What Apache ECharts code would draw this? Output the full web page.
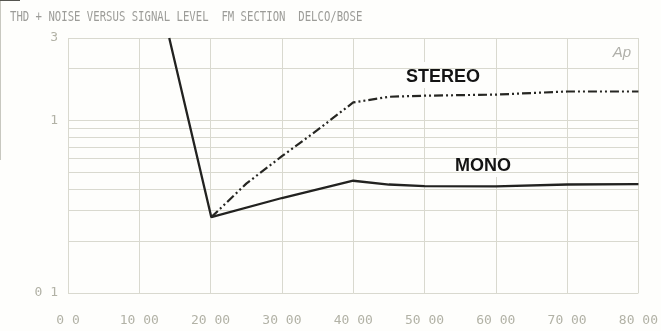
<!DOCTYPE html>
<html>
<head>
<meta charset="utf-8">
<script src="https://cdn.jsdelivr.net/npm/echarts@6/dist/echarts.min.js"></script>
<style>
html,body{margin:0;padding:0;background:#fefefc;}
#c{width:661px;height:331px;}
</style>
</head>
<body>
<div id="c"></div>
<script>
// ---- data ----
var xTickLabels = ['0 0','10 00','20 00','30 00','40 00','50 00','60 00','70 00','80 00'];
var yTickValues = [0.1, 1, 3];
var yTickLabels = ['0 1', '1', '3'];
var yGridValues = [0.1,0.2,0.3,0.4,0.5,0.6,0.7,0.8,0.9,1,2,3];
var monoX = [14.2, 20.1, 30, 40, 45, 50, 60, 70, 80];
var monoY = [3, 0.275, 0.355, 0.447, 0.425, 0.416, 0.415, 0.425, 0.427];
var stereoX = [20.1, 25, 30, 35, 40, 45, 50, 60, 70, 80];
var stereoY = [0.275, 0.43, 0.62, 0.88, 1.27, 1.37, 1.39, 1.41, 1.47, 1.47];
var titleText = 'THD + NOISE VERSUS SIGNAL LEVEL  FM SECTION  DELCO/BOSE';

function zip(a, b) { return a.map(function (v, i) { return [v, b[i]]; }); }

var gridColor = '#d9d9cf';
var chart = echarts.init(document.getElementById('c'), null, {renderer: 'canvas'});
chart.setOption({
  backgroundColor: '#fefefc',
  animation: false,
  grid: {left: 68, right: 21, top: 38, bottom: 38, containLabel: false},
  xAxis: {
    type: 'value', min: 0, max: 80, interval: 10,
    axisLine: {show: false}, axisTick: {show: false},
    splitLine: {show: true, lineStyle: {color: gridColor, width: 1}},
    axisLabel: {
      margin: 21, color: '#b2b2a6', fontFamily: 'DejaVu Sans Mono', fontSize: 13,
      formatter: function (v) { return xTickLabels[Math.round(v / 10)] || ''; }
    }
  },
  yAxis: {
    type: 'log', logBase: 10, min: 0.1, max: 3,
    axisLine: {show: false}, axisTick: {show: false},
    splitLine: {show: false},
    axisLabel: {
      margin: 10, color: '#b2b2a6', fontFamily: 'DejaVu Sans Mono', fontSize: 13,
      formatter: function (v) {
        for (var i = 0; i < yTickValues.length; i++) {
          if (Math.abs(v - yTickValues[i]) / yTickValues[i] < 0.01) return yTickLabels[i];
        }
        return '';
      }
    }
  },
  series: [
    {
      type: 'line', name: 'grid', data: [], silent: true,
      markLine: {
        silent: true, symbol: 'none', animation: false,
        label: {show: false},
        lineStyle: {color: gridColor, type: 'solid', width: 1},
        data: yGridValues.map(function (v) { return {yAxis: v}; })
      }
    },
    {
      type: 'line', name: 'MONO', data: zip(monoX, monoY), symbol: 'none', z: 5,
      lineStyle: {color: '#222220', width: 2.3}
    },
    {
      type: 'line', name: 'STEREO', data: zip(stereoX, stereoY), symbol: 'none', z: 5,
      lineStyle: {color: '#262622', width: 2.2, type: [9, 3, 2, 3, 2, 3]}
    }
  ],
  graphic: [
    {type: 'rect', shape: {x: 396, y: 62, width: 92, height: 26}, style: {fill: '#fefefc'}, z: 3},
    {type: 'rect', shape: {x: 441, y: 155, width: 79, height: 22}, style: {fill: '#fefefc'}, z: 3},
    {type: 'text', x: 10, y: 10, scaleX: 0.76, z: 10,
     style: {text: titleText, fill: '#9c9c98', font: '14px "DejaVu Sans Mono"'}},
    {type: 'text', x: 443, y: 77, z: 10,
     style: {text: 'STEREO', fill: '#141414', font: 'bold 18px "Liberation Sans"', align: 'center', verticalAlign: 'middle'}},
    {type: 'text', x: 483, y: 166, z: 10,
     style: {text: 'MONO', fill: '#141414', font: 'bold 18px "Liberation Sans"', align: 'center', verticalAlign: 'middle'}},
    {type: 'text', x: 622, y: 53, z: 10,
     style: {text: 'Ap', fill: '#b0b0aa', font: 'italic 15px "Liberation Sans"', align: 'center', verticalAlign: 'middle'}},
    {type: 'line', shape: {x1: 0.5, y1: 0, x2: 0.5, y2: 160}, style: {stroke: '#c8c8c0', lineWidth: 1}},
    {type: 'line', shape: {x1: 0, y1: 0.5, x2: 20, y2: 0.5}, style: {stroke: '#555550', lineWidth: 1}}
  ]
});
</script>
</body>
</html>
